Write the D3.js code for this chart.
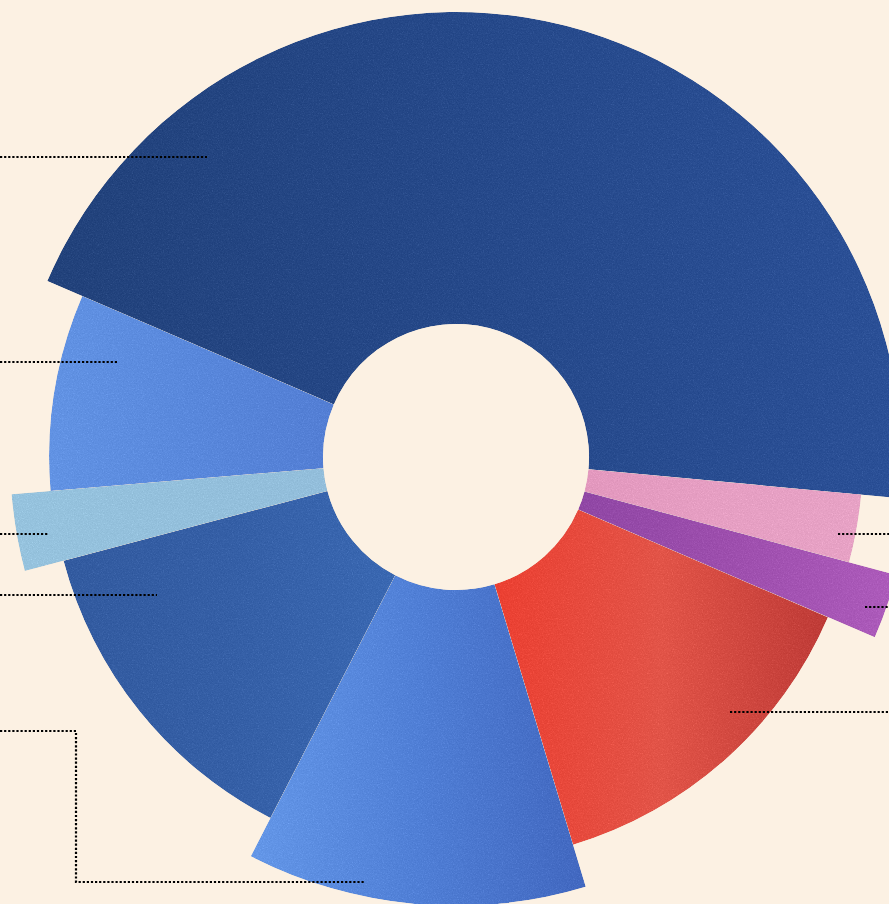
<!DOCTYPE html>
<html>
<head>
<meta charset="utf-8">
<script src="https://cdn.jsdelivr.net/npm/d3@7"></script>
<style>
  html, body { margin: 0; padding: 0; background: #fcf1e3; }
  svg { display: block; }
</style>
</head>
<body>
<div id="chart"></div>
<script>
// slices, clockwise starting at the upper-left edge of the big one
const categories = ["A", "B", "C", "D", "E", "F", "G", "H"];
const shares = [162.0, 9.7, 8.3, 49.9, 44.0, 48.0, 10.0, 28.1];   // angular share
const reach = [96.6, 84.8, 100, 84.2, 97.8, 84.5, 96.9, 84.8];    // outer radius value
const colorStops = [
    ["#2a4a83", "#2e5192", "#33589f"],
    ["#eba0c6", "#eea7cb", "#efaacd"],
    ["#984fad", "#a657b6", "#b563c3"],
    ["#f4483a", "#ea5c50", "#c6433f"],
    ["#6c9ff0", "#5887de", "#4a70c8"],
    ["#3b63a8", "#3d67ae", "#4270ba"],
    ["#9ecbe6", "#9cc8e4", "#9bc6e3"],
    ["#6a9bec", "#6190e4", "#5b86dc"]
];

const width = 889, height = 904;
const cx = 456, cy = 457;
const innerR = 133;

const svg = d3.select("#chart").append("svg")
    .attr("width", width)
    .attr("height", height);

svg.append("rect")
    .attr("width", width)
    .attr("height", height)
    .attr("fill", "#fcf1e3");

const defs = svg.append("defs");

// paper grain
const grain = defs.append("filter")
    .attr("id", "grain")
    .attr("color-interpolation-filters", "sRGB")
    .attr("x", 0).attr("y", 0).attr("width", 1).attr("height", 1);
grain.append("feTurbulence")
    .attr("type", "fractalNoise")
    .attr("baseFrequency", 0.8)
    .attr("numOctaves", 2)
    .attr("seed", 4)
    .attr("result", "noise");
grain.append("feColorMatrix")
    .attr("in", "noise")
    .attr("type", "saturate")
    .attr("values", 0)
    .attr("result", "grey");
grain.append("feComposite")
    .attr("in", "SourceGraphic")
    .attr("in2", "grey")
    .attr("operator", "arithmetic")
    .attr("k1", 0).attr("k2", 1).attr("k3", 0.2).attr("k4", -0.085)
    .attr("result", "mixed");
grain.append("feComposite")
    .attr("in", "mixed")
    .attr("in2", "SourceGraphic")
    .attr("operator", "in");

colorStops.forEach((stops, i) => {
    const g = defs.append("linearGradient")
        .attr("id", `grad${i}`)
        .attr("x1", "0%").attr("y1", "0%")
        .attr("x2", "100%").attr("y2", "0%");
    stops.forEach((c, j) => g.append("stop")
        .attr("offset", `${j * 50}%`)
        .attr("stop-color", c));
});

const radius = d3.scaleLinear()
    .domain([0, 100])
    .range([innerR, 456]);

const startDeg = 293.3 - 360;
const pie = d3.pie()
    .sort(null)
    .value(d => d.share)
    .startAngle(startDeg * Math.PI / 180)
    .endAngle((startDeg + 360) * Math.PI / 180);

const data = categories.map((c, i) => ({ name: c, share: shares[i], reach: reach[i], idx: i }));

const arc = d3.arc()
    .innerRadius(innerR)
    .outerRadius(d => radius(d.data.reach));

svg.append("g")
    .attr("transform", `translate(${cx},${cy})`)
    .selectAll("path")
    .data(pie(data))
    .join("path")
    .attr("d", arc)
    .attr("fill", d => `url(#grad${d.data.idx})`)
    .attr("filter", "url(#grain)");

// dotted leader lines (label text sits outside the crop)
const leaders = [
    [[0, 157], [207, 157]],
    [[0, 362], [117, 362]],
    [[0, 534], [48, 534]],
    [[0, 595], [157, 595]],
    [[0, 731], [76, 731], [76, 882], [365, 882]],
    [[838, 534], [889, 534]],
    [[865, 607], [889, 607]],
    [[730, 712], [889, 712]]
];

svg.append("g")
    .selectAll("path")
    .data(leaders)
    .join("path")
    .attr("d", d3.line())
    .attr("fill", "none")
    .attr("stroke", "#000")
    .attr("stroke-width", 2.2)
    .attr("stroke-dasharray", "2.2 1.9");
</script>
</body>
</html>
